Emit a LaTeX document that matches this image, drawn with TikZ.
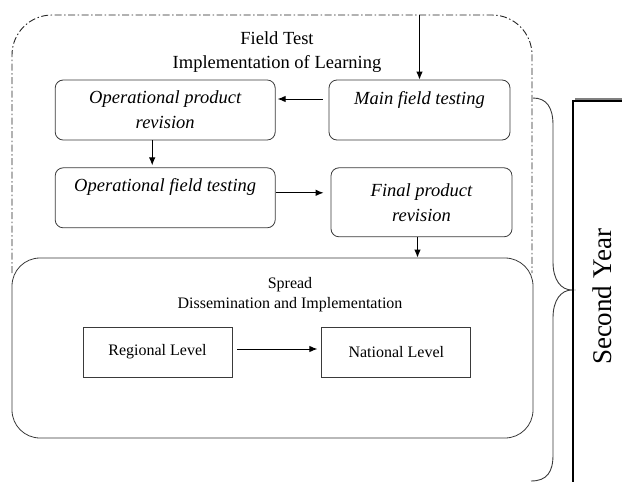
\documentclass[tikz,border=0pt]{standalone}
\usepackage{fontspec}
\setmainfont{Liberation Serif}
\usetikzlibrary{positioning,arrows.meta}
\definecolor{edgegray}{HTML}{3A3A3A}
\definecolor{bargray}{HTML}{808080}

\begin{document}
\begin{tikzpicture}[
		x=1pt, y=-1pt,
		every node/.style={inner sep=0pt},
		stage/.style={
			draw=edgegray,
			line width=0.8pt,
			rounded corners=8pt,
			align=center,
			minimum height=60pt,
			font=\fontsize{18.5}{25}\selectfont\itshape
		},
		level/.style={
			draw=edgegray,
			line width=0.8pt,
			minimum width=149pt,
			minimum height=50pt,
			font=\fontsize{16}{20}\selectfont
		},
		phase/.style={
			draw=edgegray,
			line width=0.8pt,
			rounded corners=28pt
		},
		flow/.style={
			-{Latex[length=8pt,width=6.5pt]},
			line width=1pt
		}
	]
		\path[use as bounding box, clip] (0,0) rectangle (622,482);

		% field test stage
		\draw[
			black!85,
			line width=0.9pt,
			rounded corners=40pt,
			dash pattern=on 7pt off 2.5pt on 1.5pt off 2.5pt
		]
			(12,273) -- (12,15) -- (532,15) -- (532,273);
		\node[align=center, font=\fontsize{18.5}{24}\selectfont] (fieldtest)
			at (277,52) {Field Test\\Implementation of Learning};

		\node[stage, minimum width=181pt] (main)
			at (419.5,110) {Main field testing\\~};
		\node[stage, minimum width=220pt, left=53pt of main] (opr)
			{Operational product\\revision};
		\node[stage, minimum width=220pt, below=27pt of opr] (oft)
			{Operational field testing\\~};
		\node[stage, minimum width=181pt, minimum height=69pt,
			right=55pt of oft.north east, anchor=north west] (fpr)
			{Final product\\revision};

		% spread stage
		\node[phase, minimum width=521pt, minimum height=180pt] (spread)
			at (272.5,348) {};
		\node[align=center, font=\fontsize{16}{20}\selectfont] (spreadtitle)
			at (290,295) {Spread\\Dissemination and Implementation};
		\node[level] (regional) at (157.5,352) {Regional Level};
		\node[level, right=89pt of regional] (national) {National Level};

		\coordinate (entry) at (419.5,15);
		\draw[flow] (entry) -- (main.north);
		\draw[flow, shorten <=6pt, shorten >=2pt]
			([yshift=11pt]main.west) -- ([yshift=11pt]opr.east);
		\draw[flow, shorten >=2pt]
			([xshift=-13pt]opr.south) -- ([xshift=-13pt]oft.north);
		\draw[flow, shorten >=7pt]
			([yshift=5pt]oft.east) -- ([yshift=5pt]oft.east -| fpr.west);
		\draw[flow] ([xshift=-4pt]fpr.south) -- ([xshift=-4pt]fpr.south |- spread.north);
		\draw[flow, shorten <=5pt, shorten >=4pt]
			([yshift=3pt]regional.east) -- ([yshift=3pt]national.west);

		% year brace and column
		\draw[edgegray, line width=0.9pt]
			(533,98) .. controls (547,98) and (553,108) .. (553,125)
			-- (553,262) .. controls (553,280) and (561,290) .. (572,290)
			.. controls (561,290) and (553,300) .. (553,318)
			-- (553,455) .. controls (553,472) and (547,481) .. (531,481);
		\draw[bargray, line width=2pt] (575,99) -- (640,99);
		\draw[line width=1.1pt] (640,101) -- (573,101) -- (573,500);
		\node[rotate=90, font=\fontsize{27}{32}\selectfont] (year)
			at (602,297) {Second Year};
	\end{tikzpicture}
\end{document}
